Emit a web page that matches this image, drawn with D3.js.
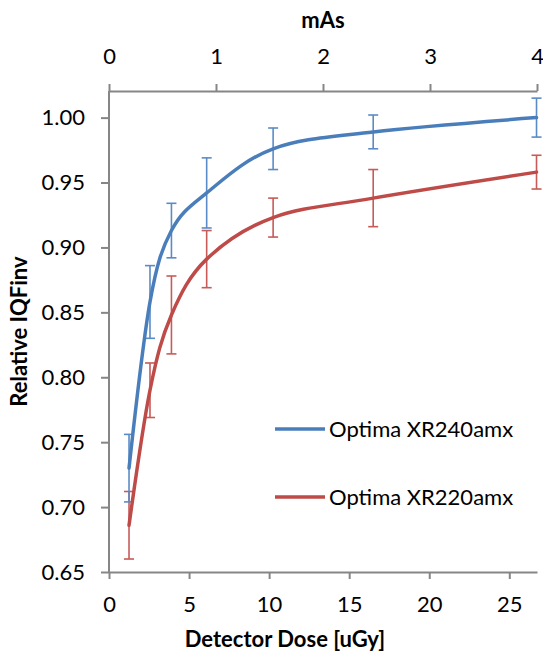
<!DOCTYPE html>
<html>
<head>
<meta charset="utf-8">
<script src="https://cdn.jsdelivr.net/npm/d3@7"></script>
<style>
  html, body { margin: 0; padding: 0; background: #fff; }
  svg { display: block; font-family: Lato, "Open Sans", sans-serif; }
</style>
</head>
<body>
<svg id="chart" width="543" height="654"></svg>
<script>
// ---- data ----
const dose = [1.25, 2.56, 3.9, 6.1, 10.25, 16.5, 26.7];
const seriesNames = ["Optima XR240amx", "Optima XR220amx"];
const xr240 = [0.730, 0.858, 0.913, 0.942, 0.976, 0.989, 1.000];
const xr240Err = [0.026, 0.028, 0.021, 0.027, 0.016, 0.013, 0.015];
const xr220 = [0.686, 0.790, 0.848, 0.891, 0.923, 0.938, 0.958];
const xr220Err = [0.026, 0.021, 0.030, 0.022, 0.015, 0.022, 0.013];
const yTicks = [0.65, 0.70, 0.75, 0.80, 0.85, 0.90, 0.95, 1.00];
const xTicks = [0, 5, 10, 15, 20, 25];
const mAsTicks = [0, 1, 2, 3, 4];
const colors = ["#4A7EBB", "#BE4B48"];
const errColors = ["#5B8BC6", "#C65B58"];

// ---- layout ----
const svg = d3.select("#chart");
const pL = 109, pR = 537, pT = 91, pB = 572;
const x = d3.scaleLinear().domain([0, 26.73]).range([pL, pR]);
const xTop = d3.scaleLinear().domain([0, 4]).range([pL, pR]);
const y = d3.scaleLinear().domain([0.65, 1.0205]).range([pB, pT]);
const axisColor = "#868686";

function styleAxis(g) {
  g.selectAll(".domain").attr("stroke", axisColor).attr("stroke-width", 2);
  g.selectAll(".tick line").attr("stroke", axisColor).attr("stroke-width", 2);
  g.selectAll(".tick text").attr("fill", "#000").style("font-size", "22px").style("font-family", "Lato, sans-serif");
}

// bottom axis
const gx = svg.append("g").attr("transform", `translate(0,${pB})`)
  .call(d3.axisBottom(x).tickValues(xTicks).tickFormat(d3.format("d")).tickSizeInner(7).tickSizeOuter(0).tickPadding(17));
styleAxis(gx);

// top axis
const gt = svg.append("g").attr("transform", `translate(0,${pT})`)
  .call(d3.axisTop(xTop).tickValues(mAsTicks).tickFormat(d3.format("d")).tickSizeInner(7).tickSizeOuter(0).tickPadding(20));
styleAxis(gt);

// left axis
const gy = svg.append("g").attr("transform", `translate(${pL},0)`)
  .call(d3.axisLeft(y).tickValues(yTicks).tickFormat(d3.format(".2f")).tickSizeInner(8).tickSizeOuter(0).tickPadding(16));
styleAxis(gy);
gy.select(".domain").attr("d", `M0,${pB}V${pT}`);

// titles
svg.append("text").attr("x", (pL + pR) / 2).attr("y", 28)
  .attr("text-anchor", "middle").style("font-size", "22px").style("font-weight", "bold").text("mAs");
svg.append("text").attr("x", 285).attr("y", 647)
  .attr("text-anchor", "middle").style("font-size", "22px").style("font-weight", "bold").text("Detector Dose [uGy]");
svg.append("text").attr("transform", `translate(27,${(pT + pB) / 2}) rotate(-90)`)
  .attr("text-anchor", "middle").style("font-size", "22px").style("font-weight", "bold").text("Relative IQFinv");

// series
const series = [
  { name: seriesNames[0], vals: xr240, err: xr240Err, color: colors[0], ecolor: errColors[0] },
  { name: seriesNames[1], vals: xr220, err: xr220Err, color: colors[1], ecolor: errColors[1] }
];
const line = d3.line().x(d => x(d[0])).y(d => y(d[1])).curve(d3.curveCatmullRom.alpha(0));

series.slice().reverse().forEach(s => {
  const pts = dose.map((d, i) => [d, s.vals[i], s.err[i]]);
  const eg = svg.append("g");
  pts.forEach(p => {
    const cx = x(p[0]), y1 = y(p[1] + p[2]), y2 = y(p[1] - p[2]);
    eg.append("line").attr("x1", cx).attr("x2", cx).attr("y1", y1).attr("y2", y2)
      .attr("stroke", s.ecolor).attr("stroke-width", 1.6);
    [y1, y2].forEach(yy => eg.append("line").attr("x1", cx - 5).attr("x2", cx + 5).attr("y1", yy).attr("y2", yy)
      .attr("stroke", s.ecolor).attr("stroke-width", 1.6));
  });
});
series.slice().reverse().forEach(s => {
  const pts = dose.map((d, i) => [d, s.vals[i]]);
  svg.append("path").datum(pts).attr("d", line).attr("fill", "none")
    .attr("stroke", s.color).attr("stroke-width", 3.5).attr("stroke-linecap", "round");
});

// legend
const legY = [429, 497];
series.forEach((s, i) => {
  svg.append("line").attr("x1", 275).attr("x2", 325).attr("y1", legY[i]).attr("y2", legY[i])
    .attr("stroke", s.color).attr("stroke-width", 3.5);
  svg.append("text").attr("x", 329).attr("y", legY[i]).attr("dy", "0.36em")
    .style("font-size", "22px").text(s.name);
});
</script>
</body>
</html>
